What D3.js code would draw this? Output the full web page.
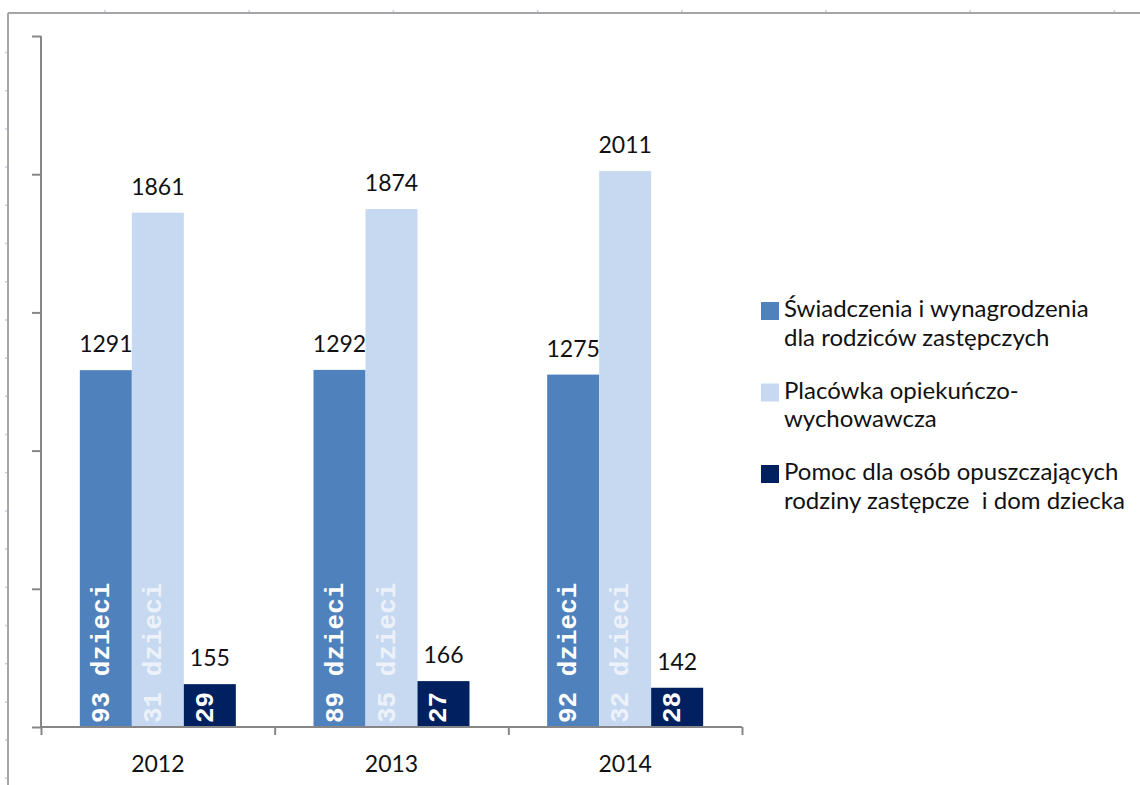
<!DOCTYPE html>
<html><head><meta charset="utf-8">
<script src="https://cdn.jsdelivr.net/npm/d3@7"></script>
<style>html,body{margin:0;padding:0;background:#fff;}svg{display:block;}</style>
</head><body>
<svg id="c" width="1140" height="785"></svg>
<script>
const years = ["2012", "2013", "2014"];
const seriesNames = [
  ["Świadczenia i wynagrodzenia", "dla rodziców zastępczych"],
  ["Placówka opiekuńczo-", "wychowawcza"],
  ["Pomoc dla osób opuszczających", "rodziny zastępcze  i dom dziecka"]
];
const swiadczenia = [1291, 1292, 1275];
const placowka = [1861, 1874, 2011];
const pomoc = [155, 166, 142];
const swiadczeniaDzieci = ["93 dzieci", "89 dzieci", "92 dzieci"];
const placowkaDzieci = ["31 dzieci", "35 dzieci", "32 dzieci"];
const pomocDzieci = ["29", "27", "28"];
const yTicks = [0, 500, 1000, 1500, 2000, 2500];

const colors = ["#4f81bd", "#c6d9f1", "#002060"];
const innerColors = ["#ffffff", "#edf2fa", "#ffffff"];
const seriesValues = [swiadczenia, placowka, pomoc];
const seriesInner = [swiadczeniaDzieci, placowkaDzieci, pomocDzieci];

const svg = d3.select("#c");
const font = "Lato, 'Open Sans', sans-serif";

// outer frame (top and left)
svg.append("line").attr("x1", 8).attr("x2", 1140).attr("y1", 13).attr("y2", 13)
  .attr("stroke", "#a6a6a6").attr("stroke-width", 2);
svg.append("line").attr("x1", 8).attr("x2", 8).attr("y1", 13).attr("y2", 785)
  .attr("stroke", "#a6a6a6").attr("stroke-width", 2);
d3.range(105, 1140, 144.2).forEach(x => svg.append("line")
  .attr("x1", x).attr("x2", x).attr("y1", 10).attr("y2", 12)
  .attr("stroke", "#c5cde0").attr("stroke-width", 1.5));
d3.range(52.5, 785, 38.2).forEach(y => svg.append("line")
  .attr("x1", 5).attr("x2", 7).attr("y1", y).attr("y2", y)
  .attr("stroke", "#c5cde0").attr("stroke-width", 1.5));

const y = d3.scaleLinear().domain([0, 2500]).range([727, 36]);
const x0 = d3.scaleBand().domain(years).range([41, 742]).paddingInner(0.3324).paddingOuter(0.1662);
const x1 = d3.scaleBand().domain([0, 1, 2]).range([0, x0.bandwidth()]);
const xb = d3.scaleLinear().domain([0, years.length]).range([41, 742]);

// bars
const groups = svg.append("g").selectAll("g").data(years).join("g")
  .attr("transform", d => `translate(${x0(d)},0)`);

years.forEach((yr, i) => {
  const g = groups.filter(d => d === yr);
  seriesValues.forEach((vals, s) => {
    const v = vals[i];
    const bx = x1(s), bw = x1.bandwidth();
    g.append("rect").attr("x", bx).attr("width", bw)
      .attr("y", y(v)).attr("height", y(0) - y(v)).attr("fill", colors[s]);
    g.append("text").attr("x", bx + bw / 2).attr("y", y(v) - 18)
      .attr("text-anchor", "middle").attr("font-family", font)
      .attr("font-size", 23).attr("fill", "#111").text(v);
    g.append("text")
      .attr("transform", `translate(${bx + bw / 2 + 3},${y(0) - 4}) rotate(-90)`)
      .attr("font-family", "'Liberation Mono', 'DejaVu Sans Mono', monospace")
      .attr("font-weight", "bold").attr("font-size", 26)
      .attr("fill", innerColors[s]).text(seriesInner[s][i]);
  });
});

// y axis
const yAxis = svg.append("g").attr("transform", "translate(41,0)")
  .call(d3.axisLeft(y).tickValues(yTicks).tickSize(9).tickFormat(""));
yAxis.select(".domain").attr("stroke", "#868686").attr("stroke-width", 2).attr("d", "M0,36V727");
yAxis.selectAll(".tick line").attr("stroke", "#868686").attr("stroke-width", 2);

// x axis
const xAxis = svg.append("g").attr("transform", "translate(0,727)")
  .call(d3.axisBottom(xb).tickValues(d3.range(0, years.length + 1)).tickSize(8).tickFormat(""));
xAxis.select(".domain").attr("stroke", "#868686").attr("stroke-width", 2).attr("d", "M41,0H742");
xAxis.selectAll(".tick line").attr("stroke", "#868686").attr("stroke-width", 2);

svg.append("g").selectAll("text").data(years).join("text")
  .attr("x", d => x0(d) + x0.bandwidth() / 2).attr("y", 772)
  .attr("text-anchor", "middle").attr("font-family", font).attr("font-size", 23)
  .attr("fill", "#111").text(d => d);

// legend
const leg = svg.append("g");
seriesNames.forEach((lines, s) => {
  const baseY = 317 + s * 81.5;
  leg.append("rect").attr("x", 761).attr("y", baseY - 15).attr("width", 18).attr("height", 18)
    .attr("fill", colors[s]);
  lines.forEach((ln, k) => {
    leg.append("text").attr("x", 784).attr("y", baseY + k * 28.5)
      .attr("font-family", font).attr("font-size", 24).attr("fill", "#111")
      .attr("xml:space", "preserve").style("white-space", "pre").text(ln);
  });
});
</script>
</body></html>
